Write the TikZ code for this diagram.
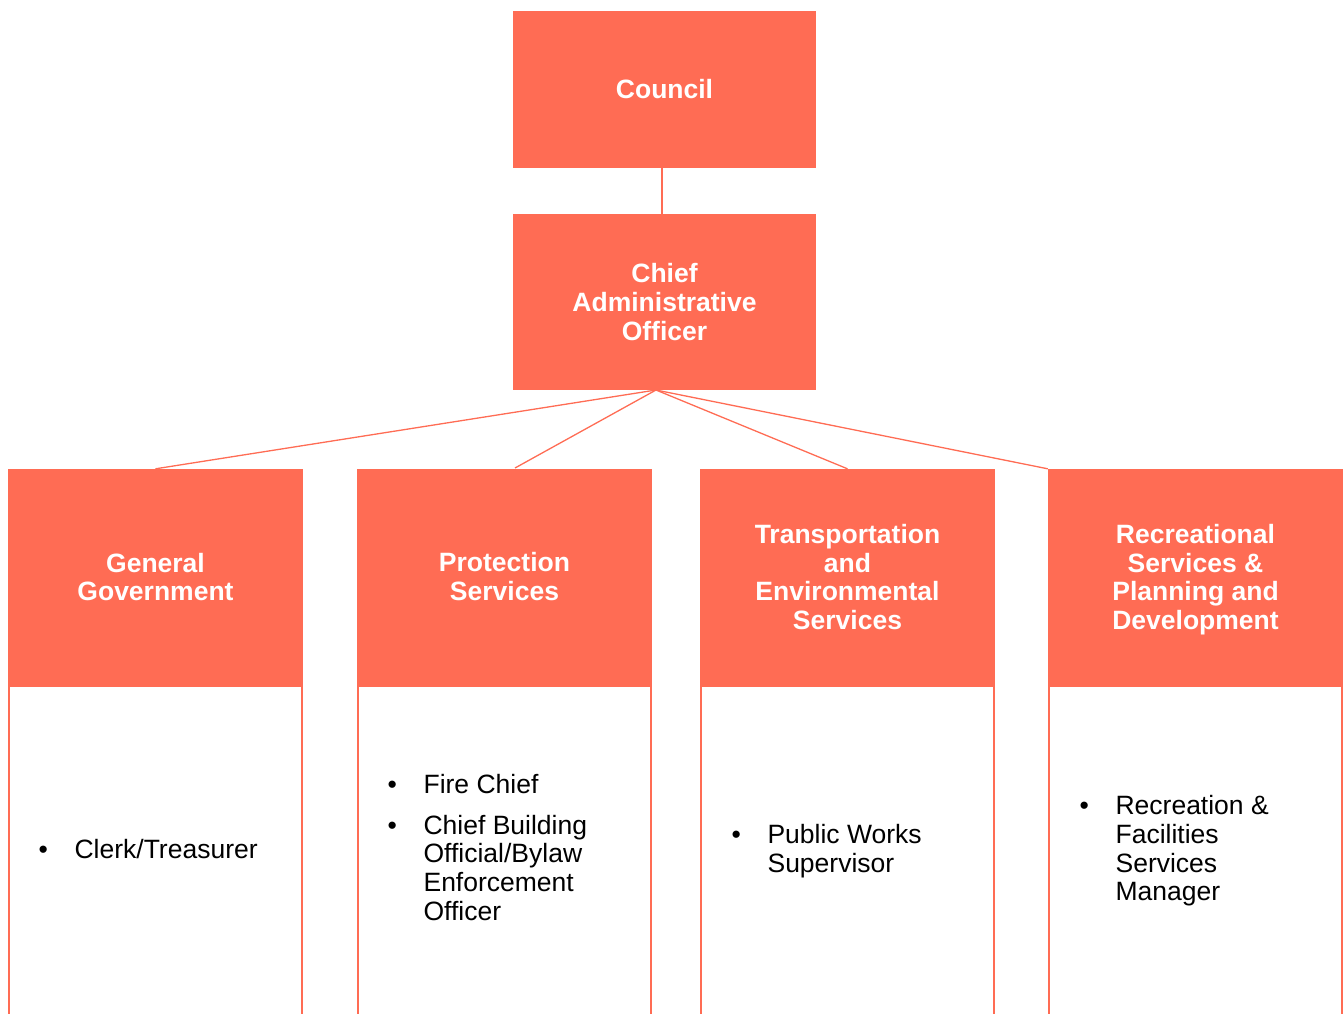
\documentclass[tikz,border=0pt]{standalone}
\usepackage{fontspec}
\setmainfont{Liberation Sans}
\definecolor{coral}{HTML}{FF6C54}
\begin{document}
\begin{tikzpicture}[x=1pt,y=-1pt,
  topbox/.style={fill=coral, draw=none, inner sep=0pt, text=white,
    font=\bfseries\fontsize{26.5}{28.7}\selectfont, align=center,
    minimum width=303pt},
  hdrbox/.style={fill=coral, draw=none, inner sep=0pt, text=white,
    font=\bfseries\fontsize{26.5}{28.7}\selectfont, align=center,
    minimum width=295pt, minimum height=216pt},
  bodybox/.style={fill=white, draw=coral, line width=2pt, inner sep=0pt,
    minimum width=293pt, minimum height=329pt},
  listtext/.style={anchor=west, inner sep=0pt, text=black,
    font=\fontsize{26.5}{28.7}\selectfont},
  link/.style={draw=coral, line width=1.3pt}
]
\useasboundingbox (0,0) rectangle (1343,1013);
\clip (0,0) rectangle (1343,1013);

% top of the hierarchy
\node[topbox, minimum height=157pt] (council) at (664.5,89.5) {Council};
\node[topbox, minimum height=176pt] (cao) at (664.5,302) {Chief\\Administrative\\Officer};

% department headers
\node[hdrbox] (gg)   at (155.5,577) {General\\Government};
\node[hdrbox] (ps)   at (504.5,576.5) {Protection\\Services};
\node[hdrbox] (tes)  at (847.5,577) {Transportation\\and\\Environmental\\Services};
\node[hdrbox, text depth=0pt] (rspd) at (1195.5,577) {Recreational\\Services \&\\Planning and\\Development};

% department staff panels
\node[bodybox] (ggb)   at (155.5,850.5) {};
\node[bodybox] (psb)   at (504.5,850.5) {};
\node[bodybox] (tesb)  at (847.5,850.5) {};
\node[bodybox] (rspdb) at (1195.5,850.5) {};

\node[listtext] (ggl) at (38.4,853) {%
  \begin{tabular}{@{}l@{\hspace{26.7pt}}l@{}}
  • & Clerk/Treasurer
  \end{tabular}};
\node[listtext] (psl) at (387.4,851) {%
  \begin{tabular}{@{}l@{\hspace{26.7pt}}l@{}}
  • & Fire Chief\\[12pt]
  • & Chief Building\\
    & Official/Bylaw\\
    & Enforcement\\
    & Officer
  \end{tabular}};
\node[listtext] (tesl) at (731.4,852.5) {%
  \begin{tabular}{@{}l@{\hspace{26.7pt}}l@{}}
  • & Public Works\\
    & Supervisor
  \end{tabular}};
\node[listtext] (rspdl) at (1079.4,852) {%
  \begin{tabular}{@{}l@{\hspace{26.7pt}}l@{}}
  • & Recreation \&\\
    & Facilities\\
    & Services\\
    & Manager
  \end{tabular}};

% reporting lines
\coordinate (hub) at (656,390);
\coordinate (psin) at (515,468);
\draw[link] ([xshift=-2.5pt]council.south) -- ([xshift=-2.5pt]cao.north);
\draw[link] (hub) -- (gg.north);
\draw[link] (hub) -- (psin);
\draw[link] (hub) -- (tes.north);
\draw[link] (hub) -- (rspd.north west);
\end{tikzpicture}
\end{document}
